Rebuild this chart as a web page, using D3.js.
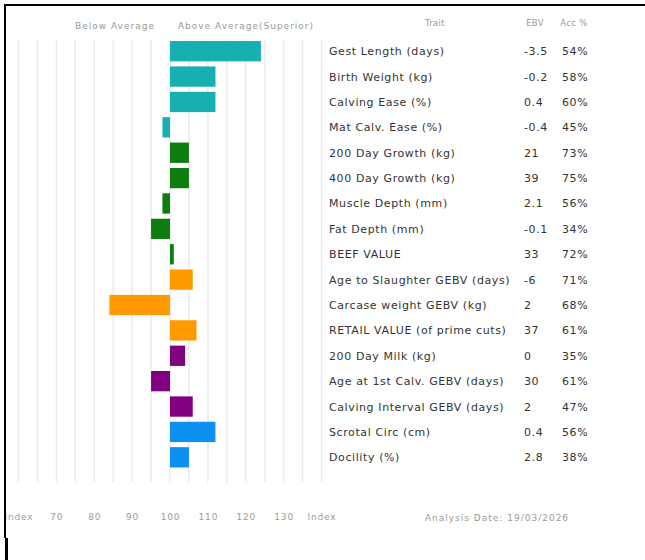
<!DOCTYPE html>
<html><head><meta charset="utf-8">
<script src="https://cdn.jsdelivr.net/npm/d3@7"></script>
<style>body{margin:0;background:#fff}svg{display:block}</style>
</head><body>
<script>
const traits = ["Gest Length (days)","Birth Weight (kg)","Calving Ease (%)","Mat Calv. Ease (%)","200 Day Growth (kg)","400 Day Growth (kg)","Muscle Depth (mm)","Fat Depth (mm)","BEEF VALUE","Age to Slaughter GEBV (days)","Carcase weight GEBV (kg)","RETAIL VALUE (of prime cuts)","200 Day Milk (kg)","Age at 1st Calv. GEBV (days)","Calving Interval GEBV (days)","Scrotal Circ (cm)","Docility (%)"];
const indexValues = [124,112,112,98,105,105,98,95,101,106,84,107,104,95,106,112,105];
const ebv = ["-3.5","-0.2","0.4","-0.4","21","39","2.1","-0.1","33","-6","2","37","0","30","2","0.4","2.8"];
const acc = ["54%","58%","60%","45%","73%","75%","56%","34%","72%","71%","68%","61%","35%","61%","47%","56%","38%"];
const groups = ["calving","calving","calving","calving","growth","growth","carcase","carcase","beef","slaughter","slaughter","slaughter","maternal","maternal","maternal","fertility","temperament"];
const groupColors = {calving:"#17afb0",growth:"#0d7d10",carcase:"#0d7d10",beef:"#0d7d10",slaughter:"#ff9a00",maternal:"#800080",fertility:"#0e8ff2",temperament:"#0e8ff2"};
const gridValues = d3.range(60,141,5);
const tickValues = [60,70,80,90,100,110,120,130,140];
const tickLabels = ["Index","70","80","90","100","110","120","130","Index"];
const analysisDate = "Analysis Date: 19/03/2026";

const W=645,H=560;
const svg=d3.select("body").append("svg").attr("width",W).attr("height",H);
const font="'DejaVu Sans', sans-serif";

const x=d3.scaleLinear().domain([60,140]).range([18.5,321.5]);
const y=d3.scaleBand().domain(traits).range([38.5,470]).paddingInner(0.2).paddingOuter(0.1);

// grid
svg.append("g").selectAll("line").data(gridValues).join("line")
  .attr("x1",d=>x(d)).attr("x2",d=>x(d)).attr("y1",40).attr("y2",482)
  .attr("stroke","#ebebeb").attr("stroke-width",1.5);

// bars
svg.append("g").selectAll("rect").data(traits).join("rect")
  .attr("x",(d,i)=>x(Math.min(100,indexValues[i])))
  .attr("width",(d,i)=>Math.abs(x(indexValues[i])-x(100)))
  .attr("y",d=>y(d)).attr("height",y.bandwidth())
  .attr("fill",(d,i)=>groupColors[groups[i]]);

function txt(g,t,xx,yy,anchor,st){const e=g.append("text").attr("x",xx).attr("y",yy).attr("text-anchor",anchor).attr("font-family",font).text(t);for(const k in st)e.attr(k,st[k]);return e;}
const hdr={fill:"#9a9a9a","font-size":"9px","letter-spacing":"1px"};
const hdr2={fill:"#9a9a9a","font-size":"8.5px","letter-spacing":"0.3px"};
txt(svg,"Below Average",115,29,"middle",hdr);
txt(svg,"Above Average(Superior)",246,29,"middle",hdr);
txt(svg,"Trait",435,26,"middle",hdr2);
txt(svg,"EBV",535,26,"middle",hdr2);
txt(svg,"Acc %",574,26,"middle",hdr2);

// table rows
const rows=svg.append("g").selectAll("g").data(traits).join("g")
  .attr("transform",d=>`translate(0,${y(d)+y.bandwidth()/2+4})`);
function cell(xx,f){return rows.append("text").attr("x",xx).attr("font-family",font).attr("font-size","11px").attr("letter-spacing","0.6px").attr("fill","#333").text(f);}
cell(329,d=>d);
cell(524,(d,i)=>ebv[i]);
cell(562,(d,i)=>acc[i]);

// axis
const axis=d3.axisBottom(x).tickValues(tickValues).tickFormat((d,i)=>tickLabels[i]).tickSize(0);
const ag=svg.append("g").attr("transform","translate(0,511)").call(axis);
ag.select(".domain").remove();
ag.selectAll("text").attr("font-family",font).attr("font-size","9px").attr("letter-spacing","0.8px").attr("fill","#9a9a9a");
txt(svg,analysisDate,497,521,"middle",hdr);

// border
svg.append("line").attr("x1",4).attr("x2",645).attr("y1",5).attr("y2",5).attr("stroke","#000").attr("stroke-width",2);
svg.append("line").attr("x1",5).attr("x2",5).attr("y1",4).attr("y2",538).attr("stroke","#000").attr("stroke-width",2);
svg.append("line").attr("x1",6.5).attr("x2",6.5).attr("y1",538).attr("y2",560).attr("stroke","#000").attr("stroke-width",3);
</script>
</body></html>
